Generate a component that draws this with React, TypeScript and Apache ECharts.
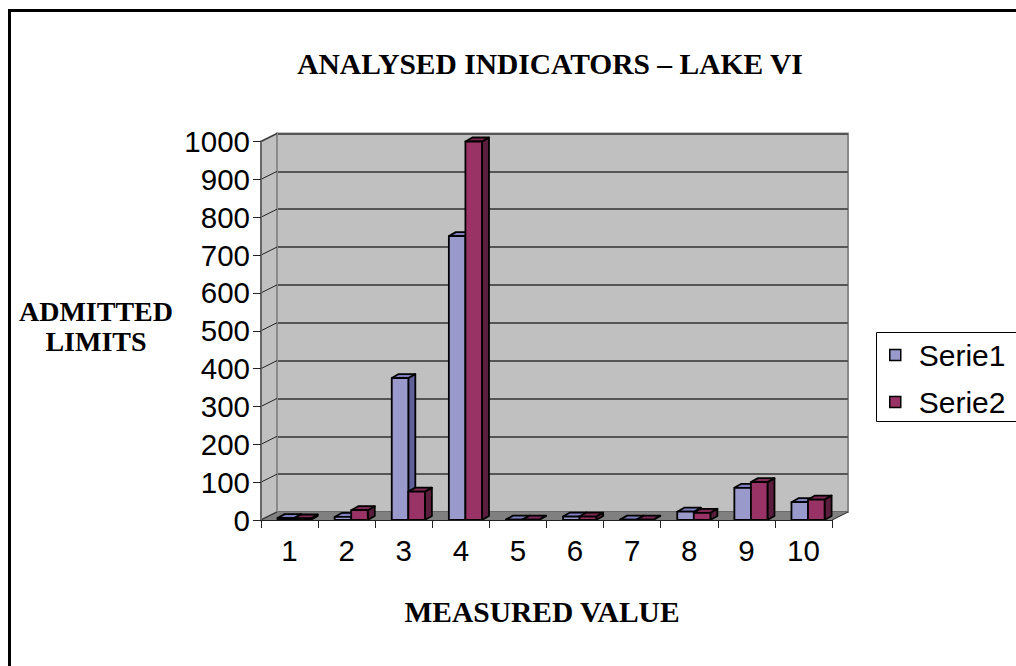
import React, { useEffect, useRef } from "react";
import * as echarts from "echarts";

const categories = ["1", "2", "3", "4", "5", "6", "7", "8", "9", "10"];
const serie1 = [5, 8, 375, 750, 1, 9, 1, 22, 85, 47];
const serie2 = [4, 26, 75, 1000, 1, 9, 1, 19, 100, 54];
const yTicks = [0, 100, 200, 300, 400, 500, 600, 700, 800, 900, 1000];
const seriesNames = ["Serie1", "Serie2"];

const DX = 16;
const DY = -8;
const BAR_DX = 7;
const BAR_DY = -4;

const COLORS = [
  { front: "#9999cc", top: "#7f7fbf", side: "#5f5f99" },
  { front: "#993366", top: "#7d2954", side: "#5a1d3c" },
];

const SERIF = "'Liberation Serif', 'Times New Roman', serif";
const SANS = "'Liberation Sans', Arial, sans-serif";

function makeBarRender(s: number) {
  return (params: any, api: any) => {
    const idx = api.value(0);
    const val = api.value(1);
    const [cx, yTop] = api.coord([idx, val]);
    const [, yBase] = api.coord([idx, 0]);
    const band = api.size([1, 0])[0];
    const w = band * 0.29;
    const x0 = cx - band * 0.21 + s * w;
    const x1 = x0 + w;
    const c = COLORS[s];
    const stroke = { stroke: "#000", lineWidth: 1.8, lineJoin: "round" };
    return {
      type: "group",
      children: [
        {
          type: "polygon",
          shape: {
            points: [
              [x1, yTop],
              [x1 + BAR_DX, yTop + BAR_DY],
              [x1 + BAR_DX, yBase + BAR_DY],
              [x1, yBase],
            ],
          },
          style: { fill: c.side, ...stroke },
        },
        {
          type: "polygon",
          shape: {
            points: [
              [x0, yTop],
              [x1, yTop],
              [x1 + BAR_DX, yTop + BAR_DY],
              [x0 + BAR_DX, yTop + BAR_DY],
            ],
          },
          style: { fill: c.top, ...stroke },
        },
        {
          type: "rect",
          shape: { x: x0, y: yTop, width: w, height: yBase - yTop },
          style: { fill: c.front, ...stroke },
        },
      ],
    };
  };
}

function wallsRender(params: any, api: any) {
  const band = api.size([1, 0])[0];
  const [xc0, y0] = api.coord([0, 0]);
  const [xc9] = api.coord([categories.length - 1, 0]);
  const [, yMax] = api.coord([0, yTicks[yTicks.length - 1]]);
  const xl = xc0 - band / 2;
  const xr = xc9 + band / 2;
  const children: any[] = [
    {
      type: "polygon",
      shape: {
        points: [
          [xl, yMax],
          [xl + DX, yMax + DY],
          [xl + DX, y0 + DY],
          [xl, y0],
        ],
      },
      style: { fill: "#c0c0c0", stroke: "#8a8a8a", lineWidth: 2 },
    },
    {
      type: "polygon",
      shape: {
        points: [
          [xl, y0],
          [xr, y0],
          [xr + DX, y0 + DY],
          [xl + DX, y0 + DY],
        ],
      },
      style: { fill: "#808080", stroke: "#808080", lineWidth: 1 },
    },
    {
      type: "line",
      shape: { x1: xr, y1: y0, x2: xr + DX, y2: y0 + DY },
      style: { stroke: "#333", lineWidth: 1 },
    },
  ];
  yTicks.forEach((t) => {
    const [, y] = api.coord([0, t]);
    children.push({
      type: "line",
      shape: { x1: xl, y1: y, x2: xl + DX, y2: y + DY },
      style: { stroke: "#222", lineWidth: 1 },
    });
  });
  return { type: "group", children };
}

export default function App() {
  const ref = useRef<HTMLDivElement>(null);
  useEffect(() => {
    if (!ref.current) return;
    const chart = echarts.init(ref.current, undefined, { renderer: "svg" });
    const frontGrid = { left: 261, top: 141.5, width: 571, height: 378.5 };
    const backGrid = {
      left: 261 + DX,
      top: 141.5 + DY,
      width: 571,
      height: 378.5,
    };
    chart.setOption({
      animation: false,
      backgroundColor: "#ffffff",
      grid: [
        {
          ...backGrid,
          show: true,
          backgroundColor: "#c0c0c0",
          borderColor: "#8a8a8a",
          borderWidth: 2,
        },
        { ...frontGrid, show: false },
      ],
      xAxis: [
        {
          gridIndex: 0,
          type: "category",
          data: categories,
          show: false,
        },
        {
          gridIndex: 1,
          type: "category",
          data: categories,
          z: 10,
          axisLine: { show: true, lineStyle: { color: "#222", width: 1 } },
          axisTick: {
            show: true,
            length: 8,
            lineStyle: { color: "#222", width: 1 },
          },
          axisLabel: {
            color: "#000",
            fontSize: 29.5,
            fontFamily: SANS,
            margin: 15,
          },
          splitLine: { show: false },
        },
      ],
      yAxis: [
        {
          gridIndex: 0,
          type: "value",
          min: 0,
          max: 1000,
          interval: 100,
          axisLine: { show: false },
          axisTick: { show: false },
          axisLabel: { show: false },
          splitLine: { show: true, lineStyle: { color: "#555", width: 2 } },
        },
        {
          gridIndex: 1,
          type: "value",
          min: 0,
          max: 1000,
          interval: 100,
          z: 10,
          axisLine: { show: true, lineStyle: { color: "#666", width: 2 } },
          axisTick: {
            show: true,
            length: 8,
            lineStyle: { color: "#222", width: 1 },
          },
          axisLabel: {
            color: "#000",
            fontSize: 29.5,
            fontFamily: SANS,
            margin: 11,
            formatter: (v: number) => String(v),
          },
          splitLine: { show: false },
        },
      ],
      legend: {
        orient: "vertical",
        left: 889,
        top: 340,
        padding: 0,
        itemWidth: 11,
        itemHeight: 11,
        itemGap: 17,
        icon: "rect",
        data: seriesNames,
        itemStyle: { borderColor: "#000", borderWidth: 1.5 },
        textStyle: {
          color: "#000",
          fontSize: 30,
          lineHeight: 30,
          fontFamily: SANS,
          padding: [0, 0, 0, 13],
        },
      },
      graphic: [
        {
          type: "rect",
          shape: { x: 9.5, y: 10.5, width: 1200, height: 800 },
          style: { fill: "none", stroke: "#000", lineWidth: 3 },
          z: 100,
        },
        {
          type: "rect",
          shape: { x: 876.5, y: 332.5, width: 300, height: 89 },
          style: { fill: "none", stroke: "#000", lineWidth: 1 },
          z: 100,
        },
        {
          type: "text",
          x: 550,
          y: 64,
          style: {
            text: "ANALYSED INDICATORS – LAKE VI",
            font: `bold 29.5px ${SERIF}`,
            fill: "#000",
            align: "center",
            verticalAlign: "middle",
          },
        },
        {
          type: "text",
          x: 96,
          y: 326,
          style: {
            text: "ADMITTED\nLIMITS",
            font: `bold 28px ${SERIF}`,
            lineHeight: 30,
            fill: "#000",
            align: "center",
            verticalAlign: "middle",
          },
        },
        {
          type: "text",
          x: 542,
          y: 612,
          style: {
            text: "MEASURED VALUE",
            font: `bold 29.5px ${SERIF}`,
            fill: "#000",
            align: "center",
            verticalAlign: "middle",
          },
        },
      ],
      series: [
        {
          type: "custom",
          name: "walls",
          xAxisIndex: 1,
          yAxisIndex: 1,
          z: 1,
          silent: true,
          data: [[0, 0]],
          renderItem: wallsRender,
        },
        ...[serie1, serie2].map((vals, s) => ({
          type: "custom",
          name: seriesNames[s],
          xAxisIndex: 1,
          yAxisIndex: 1,
          z: 3,
          clip: false,
          itemStyle: { color: COLORS[s].front },
          data: vals.map((v, i) => [i, v]),
          renderItem: makeBarRender(s),
        })),
      ],
    });
    return () => chart.dispose();
  }, []);
  return (
    <div
      ref={ref}
      style={{ position: "fixed", left: 0, top: 0, width: 1016, height: 666 }}
    />
  );
}
